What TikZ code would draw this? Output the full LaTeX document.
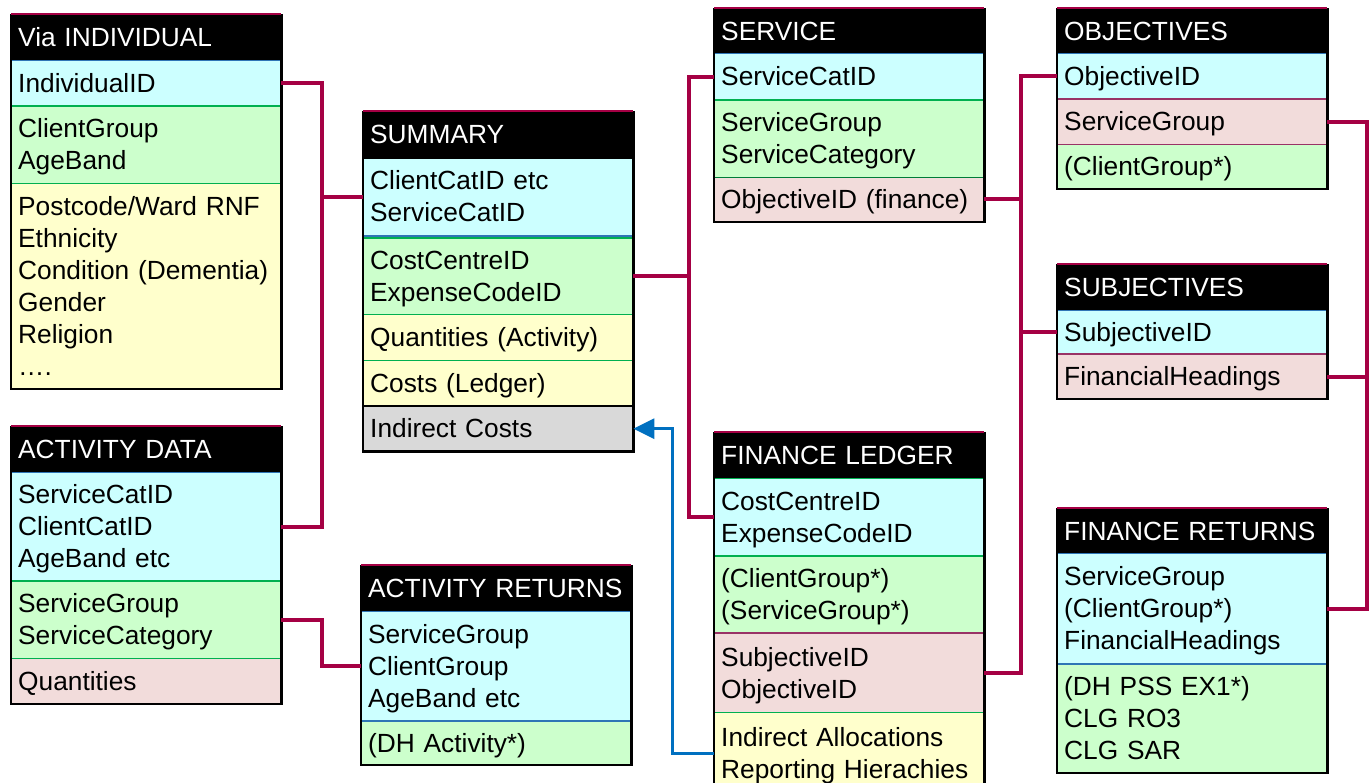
\documentclass[tikz,border=0pt]{standalone}
\usepackage{fontspec}
\setmainfont{Liberation Sans}
\usetikzlibrary{arrows.meta}
\definecolor{cyanf}{HTML}{CCFFFF}
\definecolor{greenf}{HTML}{CCFFCC}
\definecolor{yellowf}{HTML}{FFFFCC}
\definecolor{pinkf}{HTML}{F2DCDB}
\definecolor{greyf}{HTML}{D9D9D9}
\definecolor{relred}{HTML}{A50044}
\definecolor{linkblue}{HTML}{0070C0}
\definecolor{sepblue}{HTML}{2E75B6}
\definecolor{sepgreen}{HTML}{00B050}
\definecolor{sepred}{HTML}{993366}
\newcommand\tblfont{\fontsize{26.3}{32}\selectfont}
% a strut that sits the text a little lower inside its row
\newcommand\rowstrut{\rule[-6.8pt]{0pt}{32pt}}
\newcommand\sepl[2]{\draw[sepline,#2] (#1.north west) -- (#1.north east);}
\newcommand\frm[2]{%
  \draw[frame] (#1.north west) rectangle (#2.south east);
  \draw[topedge] ([yshift=0.9pt]#1.north west) -- ([yshift=0.9pt]#1.north east);}
\tikzset{
  sec/.style={anchor=north west, rectangle, inner xsep=7pt, inner ysep=0pt,
    text width=256pt, align=left, font=\tblfont,
    execute at begin node=\rowstrut, execute at end node=\rowstrut},
  hdr/.style={sec, fill=black, text=white, minimum height=45pt},
  cy/.style={sec, fill=cyanf},
  gr/.style={sec, fill=greenf},
  ye/.style={sec, fill=yellowf},
  pk/.style={sec, fill=pinkf},
  gy/.style={sec, fill=greyf},
  frame/.style={draw=black, line width=2.2pt, line join=miter},
  topedge/.style={draw=relred, line width=1.4pt},
  sepline/.style={line width=1.4pt},
  rel/.style={draw=relred, line width=4pt},
  feed/.style={draw=linkblue, line width=3pt, -{Triangle[length=21pt,width=20pt]}}
}
\begin{document}
\begin{tikzpicture}[x=1pt, y=-1pt]
\useasboundingbox (0,0) rectangle (1372,782);

% ---------- Via INDIVIDUAL ----------
\node[hdr] (ind0) at (11,15) {Via INDIVIDUAL};
\node[cy, minimum height=45pt] (ind1) at (ind0.south west) {IndividualID};
\node[gr, minimum height=77pt] (ind2) at (ind1.south west) {ClientGroup\\AgeBand};
\node[ye, minimum height=205pt] (ind3) at (ind2.south west)
  {Postcode/Ward RNF\\Ethnicity\\Condition (Dementia)\\Gender\\Religion\\\dots.};
\sepl{ind1}{sepblue}\sepl{ind2}{sepgreen}\sepl{ind3}{sepgreen}
\frm{ind0}{ind3}

% ---------- ACTIVITY DATA ----------
\node[hdr] (act0) at (11,427) {ACTIVITY DATA};
\node[cy, minimum height=108pt] (act1) at (act0.south west) {ServiceCatID\\ClientCatID\\AgeBand etc};
\node[gr, minimum height=77pt] (act2) at (act1.south west) {ServiceGroup\\ServiceCategory};
\node[pk, minimum height=45pt] (act3) at (act2.south west) {Quantities};
\sepl{act1}{sepblue}\sepl{act2}{sepgreen}\sepl{act3}{sepgreen}
\frm{act0}{act3}

% ---------- ACTIVITY RETURNS ----------
\node[hdr] (ar0) at (361,566) {ACTIVITY RETURNS};
\node[cy, minimum height=109pt] (ar1) at (ar0.south west) {ServiceGroup\\ClientGroup\\AgeBand etc};
\node[gr, minimum height=44pt] (ar2) at (ar1.south west) {(DH Activity*)};
\sepl{ar1}{sepblue}\sepl{ar2}{sepblue}
\frm{ar0}{ar2}

% ---------- SUMMARY ----------
\node[hdr] (sum0) at (363,112) {SUMMARY};
\node[cy, minimum height=78pt] (sum1) at (sum0.south west) {ClientCatID etc\\ServiceCatID};
\node[gr, minimum height=76pt] (sum2) at ([yshift=-2pt]sum1.south west) {CostCentreID\\ExpenseCodeID};
\node[ye, minimum height=46pt] (sum3) at (sum2.south west) {Quantities (Activity)};
\node[ye, minimum height=45pt] (sum4) at (sum3.south west) {Costs (Ledger)};
\node[gy, minimum height=45pt] (sum5) at (sum4.south west) {Indirect Costs};
\draw[sepline, sepblue] (sum1.south west) -- (sum1.south east);
\sepl{sum2}{sepgreen}\sepl{sum3}{sepgreen}\sepl{sum4}{sepgreen}
\draw[frame] (sum5.north west) -- (sum5.north east);
\draw[frame] (sum1.north west) -- (sum1.north east);
\frm{sum0}{sum5}

% ---------- SERVICE ----------
\node[hdr, minimum height=44pt] (svc0) at (714,9) {SERVICE};
\node[cy, minimum height=46pt] (svc1) at (svc0.south west) {ServiceCatID};
\node[gr, minimum height=77pt] (svc2) at (svc1.south west) {ServiceGroup\\ServiceCategory};
\node[pk, minimum height=44pt] (svc3) at (svc2.south west) {ObjectiveID (finance)};
\sepl{svc1}{sepblue}\sepl{svc2}{sepgreen}\sepl{svc3}{sepgreen!70!black}
\frm{svc0}{svc3}

% ---------- FINANCE LEDGER ----------
\node[hdr] (fl0) at (714,433) {FINANCE LEDGER};
\node[cy, minimum height=77pt] (fl1) at (fl0.south west) {CostCentreID\\ExpenseCodeID};
\node[gr, minimum height=77pt] (fl2) at (fl1.south west) {(ClientGroup*)\\(ServiceGroup*)};
\node[pk, minimum height=79pt] (fl3) at (fl2.south west) {SubjectiveID\\ObjectiveID};
\node[ye, minimum height=81pt] (fl4) at (fl3.south west) {Indirect Allocations\\Reporting Hierachies};
\sepl{fl1}{sepgreen}\sepl{fl2}{sepgreen}\sepl{fl4}{sepgreen}
\draw[sepred, line width=2.4pt] (fl3.north west) -- (fl3.north east);
\frm{fl0}{fl4}

% ---------- OBJECTIVES ----------
\node[hdr, minimum height=44pt] (obj0) at (1057,9) {OBJECTIVES};
\node[cy, minimum height=45pt] (obj1) at (obj0.south west) {ObjectiveID};
\node[pk, minimum height=45pt] (obj2) at (obj1.south west) {ServiceGroup};
\node[gr, minimum height=44pt] (obj3) at (obj2.south west) {(ClientGroup*)};
\sepl{obj1}{sepblue}\sepl{obj2}{sepred}\sepl{obj3}{sepred}
\frm{obj0}{obj3}

% ---------- SUBJECTIVES ----------
\node[hdr] (sub0) at (1057,265) {SUBJECTIVES};
\node[cy, minimum height=43pt] (sub1) at (sub0.south west) {SubjectiveID};
\node[pk, minimum height=45pt] (sub2) at (sub1.south west) {FinancialHeadings};
\sepl{sub1}{sepblue}\sepl{sub2}{sepred}
\frm{sub0}{sub2}

% ---------- FINANCE RETURNS ----------
\node[hdr, minimum height=44pt] (fr0) at (1057,509) {FINANCE RETURNS};
\node[cy, minimum height=110pt] (fr1) at (fr0.south west) {ServiceGroup\\(ClientGroup*)\\FinancialHeadings};
\node[gr, minimum height=109pt] (fr2) at (fr1.south west) {(DH PSS EX1*)\\CLG RO3\\CLG SAR};
\sepl{fr1}{sepblue}\sepl{fr2}{sepblue}
\frm{fr0}{fr2}

% ---------- connectors ----------
\coordinate (jA) at (322,0);
\coordinate (jB) at (689,0);
\coordinate (jC) at (1021,0);
\coordinate (jD) at (1367,0);
\coordinate (jE) at (672,0);

\draw[rel] (ind1.east) -| (jA |- act1.east) -- (act1.east);
\draw[rel] (sum1.west) -- (sum1.west -| jA);
\draw[rel] (act2.east) -| (jA |- ar1.west) -- (ar1.west);

\draw[rel] (svc1.west) -| (jB |- fl1.west) -- (fl1.west);
\draw[rel] (sum2.east) -- (sum2.east -| jB);

\draw[rel] (obj1.west) -| (jC |- fl3.east) -- (fl3.east);
\draw[rel] (svc3.east) -- (svc3.east -| jC);
\draw[rel] (sub1.west) -- (sub1.west -| jC);

\draw[rel] (obj2.east) -| (jD |- fr1.east) -- (fr1.east);
\draw[rel] (sub2.east) -- (sub2.east -| jD);

\draw[feed] (fl4.west) -| (jE |- sum5.east) -- (sum5.east);
\end{tikzpicture}
\end{document}
